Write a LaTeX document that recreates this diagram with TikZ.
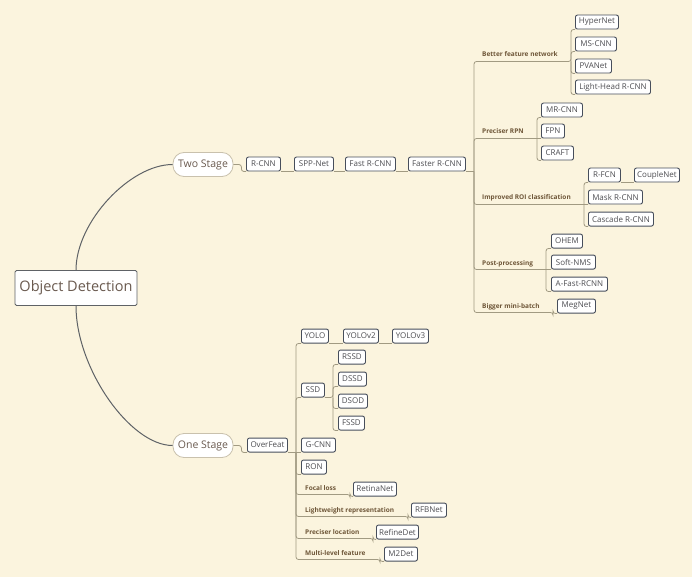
\documentclass[tikz,border=0pt]{standalone}
\usepackage{fontspec}
\setmainfont{Open Sans}
\definecolor{bg}{HTML}{FBF4DE}
\definecolor{boxline}{HTML}{474E5B}
\definecolor{boxtext}{HTML}{4E4E52}
\definecolor{connc}{HTML}{A19A82}
\definecolor{curvec}{HTML}{5E6266}
\definecolor{cattext}{HTML}{6E5638}
\definecolor{roottext}{HTML}{6A5A4F}
\definecolor{pillline}{HTML}{C9C1AD}
\begin{document}
\begin{tikzpicture}[x=1pt,y=-1pt,
  box/.style={draw=boxline, fill=white, rounded corners=2pt, line width=0.9pt,
    minimum height=14pt, inner xsep=2pt, inner ysep=0pt, anchor=south west,
    font=\fontsize{8}{9}\selectfont, text=boxtext},
  catlabel/.style={anchor=base west, inner sep=0pt, text=cattext,
    font=\bfseries\fontsize{6.5}{8}\selectfont},
  pill/.style={draw=pillline, fill=white, rounded corners=11pt, line width=0.8pt,
    minimum width=60pt, minimum height=24pt, inner sep=0pt, text=roottext,
    font=\fontsize{10.5}{12}\selectfont},
  rootbox/.style={draw=curvec, fill=white, rounded corners=1.5pt, line width=0.9pt,
    minimum width=122pt, minimum height=35pt, inner sep=0pt, text=roottext,
    font=\fontsize{14.5}{17}\selectfont},
  conn/.style={draw=connc, line width=0.8pt, rounded corners=2.5pt},
  maincurve/.style={draw=curvec, line width=1pt}]
\fill[bg] (0,0) rectangle (692,577);
\useasboundingbox (0,0) rectangle (692,577);

% ---------- root and the two main branches ----------
\node[rootbox] (od) at (76,288) {Object Detection};
\node[pill] (two) at (203,164.5) {Two Stage};
\node[pill] (one) at (203,445.5) {One Stage};
\draw[maincurve] (od.north) .. controls (76,222) and (130,164.5) .. (two.west);
\draw[maincurve] (od.south) .. controls (76,368) and (130,445.5) .. (one.west);

% ---------- two-stage chain ----------
\node[box, minimum width=34pt] (rcnn)   at (246,171.5) {R-CNN};
\node[box, minimum width=39pt] (spp)    at (294,171.5) {SPP-Net};
\node[box, minimum width=50pt] (fast)   at (345,171.5) {Fast R-CNN};
\node[box, minimum width=57pt] (faster) at (408,171.5) {Faster R-CNN};
\coordinate (tsJ) at (474,171.5);
\draw[conn] (two.east) -- ++(8,0) |- (rcnn.south west);
\draw[conn] (rcnn.south east) -- (spp.south west);
\draw[conn] (spp.south east) -- (fast.south west);
\draw[conn] (fast.south east) -- (faster.south west);
\draw[conn] (faster.south east) -- (tsJ);

% better feature network
\node[catlabel] (bfn) at (482,57) {Better feature network};
\coordinate (bfnS) at (571,61.5);
\node[box, minimum width=43pt] (hyper)  at (575,29.5) {HyperNet};
\node[box, minimum width=41pt] (mscnn)  at (575,51.5) {MS-CNN};
\node[box, minimum width=36pt] (pva)    at (575,73.5) {PVANet};
\node[box, minimum width=75pt] (lhead)  at (575,94.5) {Light-Head R-CNN};
\draw[conn] (tsJ) |- (bfnS) |- (hyper.south west);
\draw[conn] (bfnS) |- (mscnn.south west);
\draw[conn] (bfnS) |- (pva.south west);
\draw[conn] (bfnS) |- (lhead.south west);

% preciser RPN
\node[catlabel] (rpn) at (482,134) {Preciser RPN};
\coordinate (rpnS) at (537,138.5);
\node[box, minimum width=41pt] (mrcnn) at (541,117.5) {MR-CNN};
\node[box, minimum width=23pt] (fpn)   at (541,138.5) {FPN};
\node[box, minimum width=32pt] (craft) at (541,160.5) {CRAFT};
\draw[conn] (tsJ) |- (rpnS) -- (fpn.south west);
\draw[conn] (rpnS) |- (mrcnn.south west);
\draw[conn] (rpnS) |- (craft.south west);

% improved ROI classification
\node[catlabel] (roi) at (482,200) {Improved ROI classification};
\coordinate (roiS) at (584,204.5);
\node[box, minimum width=32pt] (rfcn)    at (588,182.5) {R-FCN};
\node[box, minimum width=45pt] (couple)  at (634,182.5) {CoupleNet};
\node[box, minimum width=54pt] (mask)    at (588,204.5) {Mask R-CNN};
\node[box, minimum width=65pt] (cascade) at (588,226.5) {Cascade R-CNN};
\draw[conn] (tsJ) |- (roiS) -- (mask.south west);
\draw[conn] (roiS) |- (rfcn.south west);
\draw[conn] (roiS) |- (cascade.south west);
\draw[conn] (rfcn.south east) -- (couple.south west);

% post-processing
\node[catlabel] (post) at (482,265) {Post-processing};
\coordinate (ppS) at (546,269.5);
\node[box, minimum width=31pt] (ohem)  at (551,248.5) {OHEM};
\node[box, minimum width=44pt] (snms)  at (551,269.5) {Soft-NMS};
\node[box, minimum width=56pt] (afast) at (551,291.5) {A-Fast-RCNN};
\draw[conn] (tsJ) |- (ppS) -- (snms.south west);
\draw[conn] (ppS) |- (ohem.south west);
\draw[conn] (ppS) |- (afast.south west);

% bigger mini-batch
\node[catlabel] (bmb) at (482,308) {Bigger mini-batch};
\coordinate (bmbS) at (553,312.5);
\node[box, minimum width=38pt] (meg) at (557,313.5) {MegNet};
\draw[conn] (tsJ) |- (bmbS) |- (meg.south west);

% ---------- one-stage chain ----------
\node[box, minimum width=40pt] (overfeat) at (247,452.5) {OverFeat};
\coordinate (osJ) at (296,452.5);
\draw[conn] (one.east) -- ++(8,0) |- (overfeat.south west);

\node[box, minimum width=27pt] (yolo)   at (301,343.5) {YOLO};
\node[box, minimum width=35pt] (yolo2)  at (343,343.5) {YOLOv2};
\node[box, minimum width=36pt] (yolo3)  at (392,343.5) {YOLOv3};
\draw[conn] (osJ) |- (yolo.south west);
\draw[conn] (yolo.south east) -- (yolo2.south west);
\draw[conn] (yolo2.south east) -- (yolo3.south west);

\node[box, minimum width=23pt] (ssd)  at (301,397.5) {SSD};
\coordinate (ssdS) at (333,397.5);
\node[box, minimum width=27pt] (rssd) at (338,364.5) {RSSD};
\node[box, minimum width=28pt] (dssd) at (338,386.5) {DSSD};
\node[box, minimum width=29pt] (dsod) at (338,408.5) {DSOD};
\node[box, minimum width=26pt] (fssd) at (338,430.5) {FSSD};
\draw[conn] (osJ) |- (ssd.south west);
\draw[conn] (ssd.south east) -- (ssdS) |- (rssd.south west);
\draw[conn] (ssdS) |- (dssd.south west);
\draw[conn] (ssdS) |- (dsod.south west);
\draw[conn] (ssdS) |- (fssd.south west);

\node[box, minimum width=34pt] (gcnn) at (301,452.5) {G-CNN};
\draw[conn] (overfeat.south east) -- (gcnn.south west);

\node[box, minimum width=25pt] (ron) at (301,474.5) {RON};
\draw[conn] (osJ) |- (ron.south west);

% labelled one-stage branches
\node[catlabel] (focal) at (305,490) {Focal loss};
\coordinate (flS) at (350,494.5);
\node[box, minimum width=43pt] (retina) at (353,496.5) {RetinaNet};
\draw[conn] (osJ) |- (flS) |- (retina.south west);

\node[catlabel] (light) at (305,512) {Lightweight representation};
\coordinate (lwS) at (408,516.5);
\node[box, minimum width=35pt] (rfb) at (411,517.5) {RFBNet};
\draw[conn] (osJ) |- (lwS) |- (rfb.south west);

\node[catlabel] (ploc) at (305,534) {Preciser location};
\coordinate (plS) at (373,538.5);
\node[box, minimum width=42pt] (refine) at (376,539.5) {RefineDet};
\draw[conn] (osJ) |- (plS) |- (refine.south west);

\node[catlabel] (mlf) at (305,555) {Multi-level feature};
\coordinate (mlS) at (380,559.5);
\node[box, minimum width=33pt] (m2det) at (384,561.5) {M2Det};
\draw[conn] (osJ) |- (mlS) |- (m2det.south west);
\end{tikzpicture}
\end{document}
